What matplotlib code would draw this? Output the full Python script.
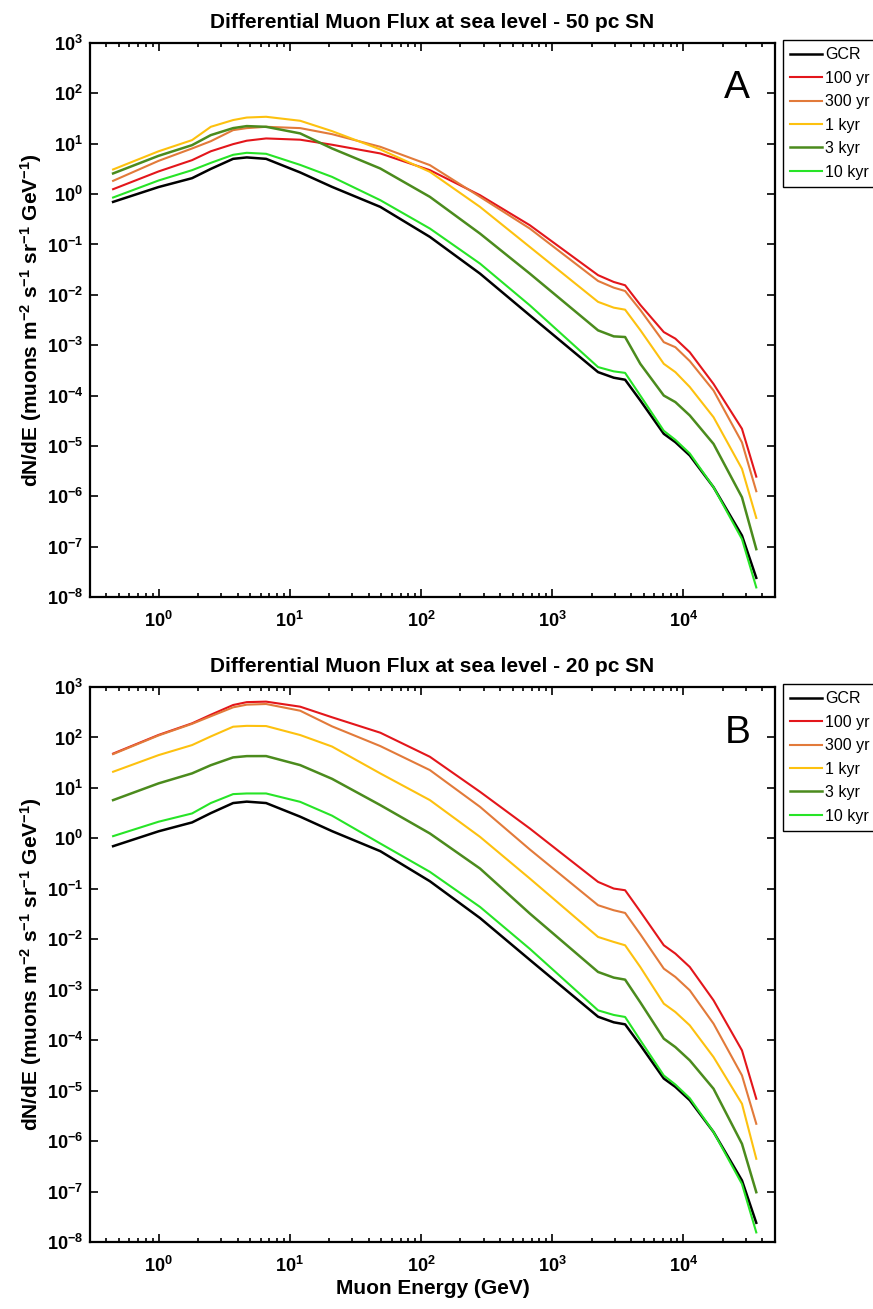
import numpy as np
import matplotlib.pyplot as plt
from matplotlib.ticker import NullLocator

plt.rcParams['font.family'] = ['Liberation Sans', 'DejaVu Sans']
plt.rcParams['font.weight'] = 'bold'
plt.rcParams['mathtext.fontset'] = 'custom'
plt.rcParams['mathtext.rm'] = 'Liberation Sans:bold'
plt.rcParams['mathtext.bf'] = 'Liberation Sans:bold'
plt.rcParams['mathtext.default'] = 'bf'

# muon energy grid (GeV)
energy = [0.45, 1.0, 1.8, 2.5, 3.7, 4.7, 6.6, 12, 21, 49, 117, 282, 676,
          2240, 2950, 3600, 4700, 7100, 8700, 11200, 17000, 28000, 36000]

labels = ['GCR', '100 yr', '300 yr', '1 kyr', '3 kyr', '10 kyr']
colors = ['#000000', '#e3161b', '#e27a3a', '#fdc10f', '#4b8b1d', '#27e427']
widths = [1.8, 1.5, 1.5, 1.5, 1.8, 1.5]

# log10 of dN/dE
gcr = [-0.155, 0.14, 0.316, 0.50, 0.70, 0.728, 0.70, 0.43, 0.143, -0.254, -0.85,
       -1.579, -2.408, -3.535, -3.646, -3.686, -4.097, -4.76, -4.926, -5.19,
       -5.82, -6.78, -7.62]

# panel A: 50 pc SN
a_100yr = [0.097, 0.45, 0.674, 0.85, 0.992, 1.06, 1.105, 1.08, 0.98, 0.807, 0.475,
           -0.022, -0.618, -1.61, -1.745, -1.81, -2.2, -2.74, -2.87, -3.14,
           -3.77, -4.66, -5.61]
a_300yr = [0.263, 0.66, 0.906, 1.05, 1.27, 1.31, 1.336, 1.31, 1.19, 0.939, 0.575,
           -0.055, -0.684, -1.725, -1.858, -1.924, -2.3, -2.94, -3.04, -3.315,
           -3.9, -4.93, -5.9]
a_1kyr = [0.489, 0.85, 1.072, 1.336, 1.47, 1.52, 1.535, 1.456, 1.25, 0.887, 0.442,
          -0.254, -1.05, -2.14, -2.255, -2.295, -2.7, -3.37, -3.535, -3.83,
          -4.43, -5.455, -6.43]
a_3kyr = [0.41, 0.76, 0.972, 1.171, 1.31, 1.35, 1.336, 1.205, 0.906, 0.508, -0.055,
          -0.784, -1.579, -2.706, -2.825, -2.838, -3.37, -4.0, -4.13, -4.395,
          -4.96, -6.02, -7.05]
a_10kyr = [-0.068, 0.27, 0.475, 0.62, 0.78, 0.82, 0.80, 0.58, 0.342, -0.121, -0.684,
           -1.38, -2.209, -3.435, -3.52, -3.55, -4.0, -4.70, -4.88, -5.15,
           -5.82, -6.85, -7.81]

# panel B: 20 pc SN
b_100yr = [1.68, 2.05, 2.28, 2.45, 2.643, 2.70, 2.71, 2.61, 2.40, 2.094, 1.617,
           0.923, 0.196, -0.863, -0.995, -1.028, -1.45, -2.119, -2.284, -2.549,
           -3.21, -4.202, -5.161]
b_300yr = [1.67, 2.04, 2.27, 2.42, 2.597, 2.65, 2.663, 2.53, 2.22, 1.829, 1.353,
           0.625, -0.22, -1.325, -1.425, -1.478, -1.9, -2.582, -2.747, -3.012,
           -3.673, -4.698, -5.657]
b_1kyr = [1.32, 1.65, 1.849, 2.02, 2.213, 2.23, 2.226, 2.048, 1.82, 1.287, 0.758,
          0.03, -0.796, -1.954, -2.053, -2.119, -2.55, -3.276, -3.442, -3.706,
          -4.335, -5.26, -6.351]
b_3kyr = [0.758, 1.09, 1.288, 1.45, 1.605, 1.63, 1.631, 1.452, 1.18, 0.659, 0.097,
          -0.598, -1.49, -2.648, -2.76, -2.8, -3.25, -3.97, -4.137, -4.4,
          -4.963, -6.054, -7.013]
b_10kyr = [0.044, 0.33, 0.494, 0.70, 0.877, 0.89, 0.89, 0.724, 0.45, -0.102, -0.664,
           -1.359, -2.19, -3.409, -3.5, -3.54, -4.0, -4.70, -4.88, -5.15,
           -5.82, -6.85, -7.81]

panels = [
    ('Differential Muon Flux at sea level - 50 pc SN', 'A',
     [gcr, a_100yr, a_300yr, a_1kyr, a_3kyr, a_10kyr]),
    ('Differential Muon Flux at sea level - 20 pc SN', 'B',
     [gcr, b_100yr, b_300yr, b_1kyr, b_3kyr, b_10kyr]),
]

W, H = 873, 1309
fig = plt.figure(figsize=(W / 100, H / 100), dpi=100)
boxes = [(43, 597), (687, 1242)]

for i, (title, letter, series) in enumerate(panels):
    top, bot = boxes[i]
    ax = fig.add_axes([90 / W, 1 - bot / H, 685 / W, (bot - top) / H])
    for s, lab, c, lw in zip(series, labels, colors, widths):
        ax.plot(energy, 10 ** np.array(s), color=c, lw=lw, label=lab)
    ax.set_xscale('log')
    ax.set_yscale('log')
    ax.set_xlim(0.3, 5e4)
    ax.set_ylim(1e-8, 1e3)
    ax.set_yticks([10.0 ** k for k in range(-8, 4)])
    ax.set_xticks([10.0 ** k for k in range(0, 5)])
    ax.yaxis.set_minor_locator(NullLocator())
    ax.tick_params(which='both', direction='in', top=True, right=True,
                   labelsize=13, width=1.2)
    ax.tick_params(which='major', length=6)
    ax.tick_params(which='minor', length=3)
    ax.tick_params(axis='x', pad=10)
    ax.tick_params(axis='y', pad=5)
    for sp in ax.spines.values():
        sp.set_linewidth(1.6)
    ax.set_title(title, fontsize=15, fontweight='bold', pad=11)
    ax.set_ylabel(r'dN/dE (muons m$^{-2}$ s$^{-1}$ sr$^{-1}$ GeV$^{-1}$)',
                  fontsize=15, fontweight='bold', labelpad=2)
    ax.text(0.945, 0.918, letter, transform=ax.transAxes, fontsize=28,
            fontweight='normal', ha='center', va='center')
    if i == 1:
        ax.set_xlabel('Muon Energy (GeV)', fontsize=15, fontweight='bold',
                      labelpad=2)
    ax.legend(loc='upper left', bbox_to_anchor=(783 / W, 1 - (top - 3) / H),
              bbox_transform=fig.transFigure, borderaxespad=0,
              prop={'weight': 'normal', 'size': 11.5}, fancybox=False,
              edgecolor='black', framealpha=1, handlelength=2.0,
              handletextpad=0.2, labelspacing=0.53, borderpad=0.45)

fig.savefig('out.png', dpi=100)
